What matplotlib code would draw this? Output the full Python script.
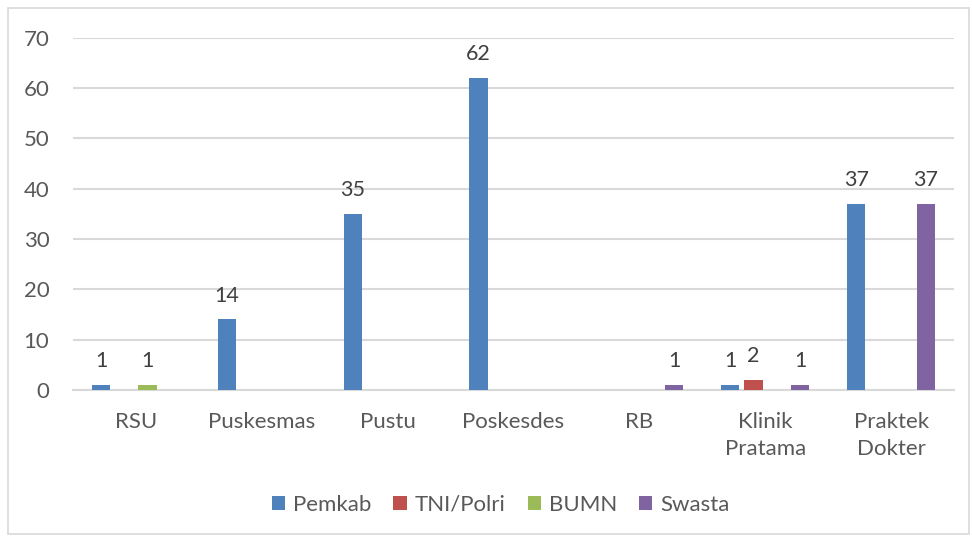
import matplotlib.pyplot as plt
import matplotlib.patches as patches
import numpy as np

plt.rcParams['font.family'] = ['Lato', 'DejaVu Sans']

categories = ["RSU", "Puskesmas", "Pustu", "Poskesdes", "RB", "Klinik\nPratama", "Praktek\nDokter"]
series = ["Pemkab", "TNI/Polri", "BUMN", "Swasta"]
pemkab = [1, 14, 35, 62, 0, 1, 37]
tni_polri = [0, 0, 0, 0, 0, 2, 0]
bumn = [1, 0, 0, 0, 0, 0, 0]
swasta = [0, 0, 0, 0, 1, 1, 37]
colors = ["#4F81BD", "#C0504D", "#9BBB59", "#8064A2"]

txt = "#595959"
grid = "#D9D9D9"

fig = plt.figure(figsize=(9.72, 5.36), dpi=100)
ax = fig.add_axes([0.0751, 0.2724, 0.9064, 0.6576])

x = np.arange(len(categories))
step = 0.185
width = 0.145
for i, (name, vals) in enumerate(zip(series, [pemkab, tni_polri, bumn, swasta])):
    pos = x + (i - 1.5) * step
    ax.bar(pos, vals, width=width, color=colors[i], label=name, zorder=3)
    for p, v in zip(pos, vals):
        if v > 0:
            ax.annotate(str(v), (p, v), xytext=(0, 10), textcoords="offset points",
                        ha="center", va="bottom", fontsize=15.5, color="#404040")

ax.set_xlim(-0.5, len(categories) - 0.5)
ax.set_ylim(0, 70)
ax.set_yticks(range(0, 71, 10))
ax.yaxis.grid(True, color=grid, linewidth=1.5, zorder=0)
ax.set_xticks(x)
ax.set_xticklabels(categories, linespacing=1.45)
ax.tick_params(axis="both", length=0, labelsize=16, labelcolor=txt)
ax.tick_params(axis="x", pad=16)
ax.tick_params(axis="y", pad=17)
for s in ["left", "right", "top"]:
    ax.spines[s].set_visible(False)
ax.spines["bottom"].set_color(grid)
ax.spines["bottom"].set_linewidth(1.5)

leg = fig.legend(loc="center", bbox_to_anchor=(0.515, 0.058), ncol=4, frameon=False,
                 fontsize=16, handlelength=0.6, handleheight=0.6, handletextpad=0.35,
                 columnspacing=1.0)
for t in leg.get_texts():
    t.set_color(txt)

fig.patches.append(patches.Rectangle((8 / 972, 2 / 536), 961 / 972, 526 / 536,
                                     transform=fig.transFigure, fill=False,
                                     edgecolor=grid, linewidth=1.2))

fig.savefig("out.png", dpi=100)
